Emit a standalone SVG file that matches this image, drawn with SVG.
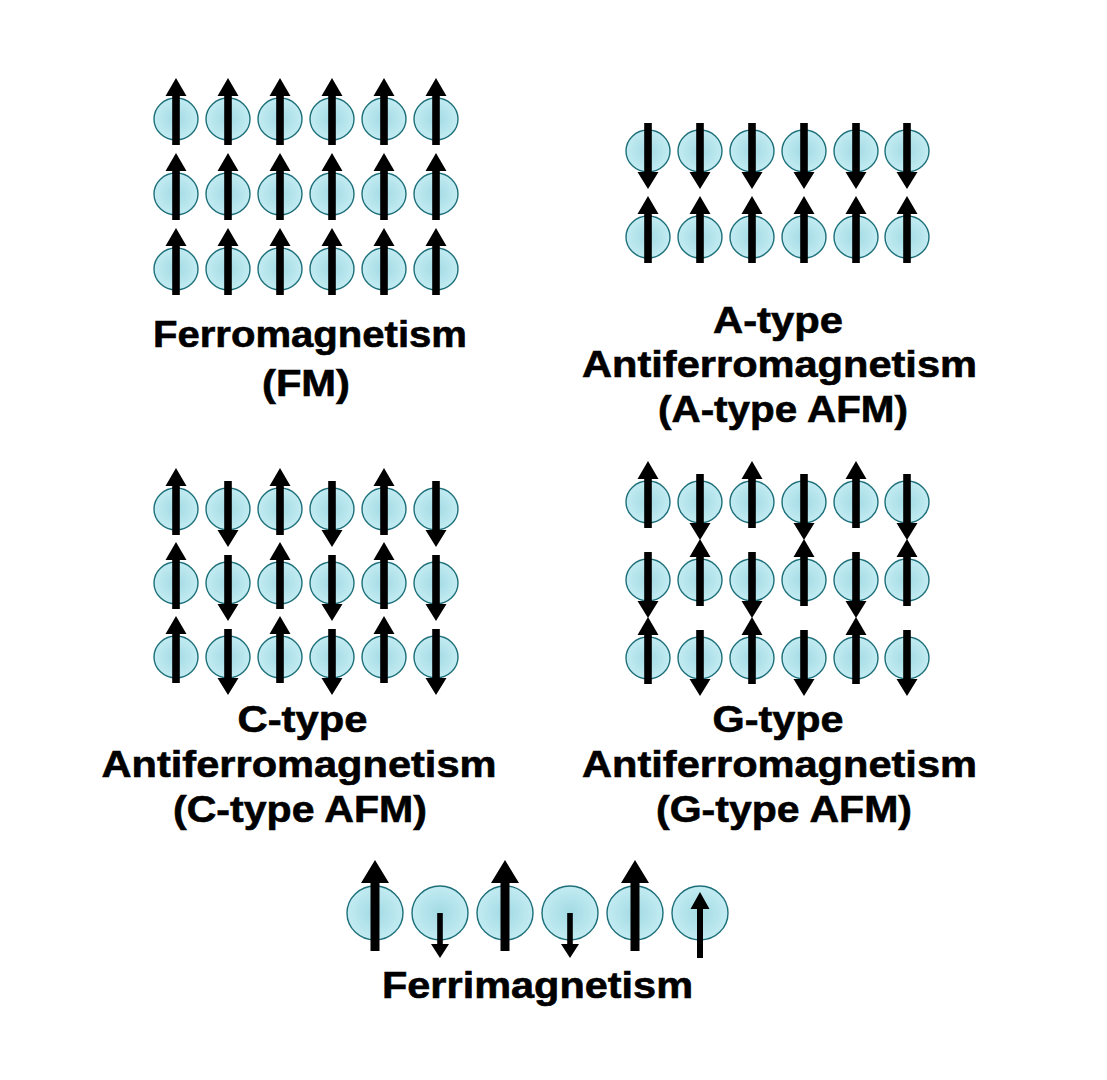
<svg xmlns="http://www.w3.org/2000/svg" xmlns:xlink="http://www.w3.org/1999/xlink" width="1107" height="1080" viewBox="0 0 1107 1080">
<style>
.lbl{font-family:"Liberation Sans",Arial,sans-serif;font-weight:bold;font-size:37px;text-anchor:middle;fill:#000;stroke:#000;stroke-width:0.6}
.atom{fill:url(#ag);stroke:#1d6f7a;stroke-width:1.4}
.spin{fill:#000}
</style>
<defs>
<radialGradient id="ag" cx="0.5" cy="0.5" r="0.55">
<stop offset="0" stop-color="#a2dae4"/>
<stop offset="1" stop-color="#c6edf3"/>
</radialGradient>
<ellipse id="at" class="atom" cx="0" cy="0" rx="22" ry="21"/>
<ellipse id="atL" class="atom" cx="0" cy="0" rx="28" ry="27"/>
<path id="up" class="spin" d="M-3.8,26 L-3.8,-23 L-10.5,-23 L0,-41 L10.5,-23 L3.8,-23 L3.8,26 Z"/>
<path id="dn" class="spin" d="M-3.8,-28 L-3.8,21 L-10.5,21 L0,38 L10.5,21 L3.8,21 L3.8,-28 Z"/>
<path id="upL" class="spin" d="M-4.5,38 L-4.5,-30 L-14,-30 L0,-53 L14,-30 L4.5,-30 L4.5,38 Z"/>
<path id="dnS" class="spin" d="M-2.8,0 L-2.8,31 L-9,31 L0,45 L9,31 L2.8,31 L2.8,0 Z"/>
<path id="upS" class="spin" d="M-3,45 L-3,-4 L-9.5,-4 L0,-21 L9.5,-4 L3,-4 L3,45 Z"/>
</defs>
<rect width="1107" height="1080" fill="#fff"/>
<g id="connectors"/>

<!-- Ferromagnetism -->
<g id="fm">
<g id="fm-1-1"><use href="#at" x="176" y="119"/><use href="#up" x="176" y="119"/></g>
<g id="fm-1-2"><use href="#at" x="228" y="119"/><use href="#up" x="228" y="119"/></g>
<g id="fm-1-3"><use href="#at" x="280" y="119"/><use href="#up" x="280" y="119"/></g>
<g id="fm-1-4"><use href="#at" x="332" y="119"/><use href="#up" x="332" y="119"/></g>
<g id="fm-1-5"><use href="#at" x="384" y="119"/><use href="#up" x="384" y="119"/></g>
<g id="fm-1-6"><use href="#at" x="436" y="119"/><use href="#up" x="436" y="119"/></g>
<g id="fm-2-1"><use href="#at" x="176" y="194"/><use href="#up" x="176" y="194"/></g>
<g id="fm-2-2"><use href="#at" x="228" y="194"/><use href="#up" x="228" y="194"/></g>
<g id="fm-2-3"><use href="#at" x="280" y="194"/><use href="#up" x="280" y="194"/></g>
<g id="fm-2-4"><use href="#at" x="332" y="194"/><use href="#up" x="332" y="194"/></g>
<g id="fm-2-5"><use href="#at" x="384" y="194"/><use href="#up" x="384" y="194"/></g>
<g id="fm-2-6"><use href="#at" x="436" y="194"/><use href="#up" x="436" y="194"/></g>
<g id="fm-3-1"><use href="#at" x="176" y="269"/><use href="#up" x="176" y="269"/></g>
<g id="fm-3-2"><use href="#at" x="228" y="269"/><use href="#up" x="228" y="269"/></g>
<g id="fm-3-3"><use href="#at" x="280" y="269"/><use href="#up" x="280" y="269"/></g>
<g id="fm-3-4"><use href="#at" x="332" y="269"/><use href="#up" x="332" y="269"/></g>
<g id="fm-3-5"><use href="#at" x="384" y="269"/><use href="#up" x="384" y="269"/></g>
<g id="fm-3-6"><use href="#at" x="436" y="269"/><use href="#up" x="436" y="269"/></g>
<g id="fm-label">
<text class="lbl" x="310" y="347" textLength="314" lengthAdjust="spacingAndGlyphs">Ferromagnetism</text>
<text class="lbl" x="306" y="396" textLength="88" lengthAdjust="spacingAndGlyphs">(FM)</text>
</g>
</g>

<!-- A-type AFM -->
<g id="afm-a">
<g id="a-1-1"><use href="#at" x="648" y="151"/><use href="#dn" x="648" y="151"/></g>
<g id="a-1-2"><use href="#at" x="700" y="151"/><use href="#dn" x="700" y="151"/></g>
<g id="a-1-3"><use href="#at" x="752" y="151"/><use href="#dn" x="752" y="151"/></g>
<g id="a-1-4"><use href="#at" x="804" y="151"/><use href="#dn" x="804" y="151"/></g>
<g id="a-1-5"><use href="#at" x="856" y="151"/><use href="#dn" x="856" y="151"/></g>
<g id="a-1-6"><use href="#at" x="907" y="151"/><use href="#dn" x="907" y="151"/></g>
<g id="a-2-1"><use href="#at" x="648" y="237"/><use href="#up" x="648" y="237"/></g>
<g id="a-2-2"><use href="#at" x="700" y="237"/><use href="#up" x="700" y="237"/></g>
<g id="a-2-3"><use href="#at" x="752" y="237"/><use href="#up" x="752" y="237"/></g>
<g id="a-2-4"><use href="#at" x="804" y="237"/><use href="#up" x="804" y="237"/></g>
<g id="a-2-5"><use href="#at" x="856" y="237"/><use href="#up" x="856" y="237"/></g>
<g id="a-2-6"><use href="#at" x="907" y="237"/><use href="#up" x="907" y="237"/></g>
<g id="a-label">
<text class="lbl" x="778" y="333" textLength="130" lengthAdjust="spacingAndGlyphs">A-type</text>
<text class="lbl" x="779.5" y="377" textLength="395" lengthAdjust="spacingAndGlyphs">Antiferromagnetism</text>
<text class="lbl" x="783" y="422" textLength="250" lengthAdjust="spacingAndGlyphs">(A-type AFM)</text>
</g>
</g>

<!-- C-type AFM -->
<g id="afm-c">
<g id="c-1-1"><use href="#at" x="176" y="509"/><use href="#up" x="176" y="509"/></g>
<g id="c-1-2"><use href="#at" x="228" y="509"/><use href="#dn" x="228" y="509"/></g>
<g id="c-1-3"><use href="#at" x="280" y="509"/><use href="#up" x="280" y="509"/></g>
<g id="c-1-4"><use href="#at" x="332" y="509"/><use href="#dn" x="332" y="509"/></g>
<g id="c-1-5"><use href="#at" x="384" y="509"/><use href="#up" x="384" y="509"/></g>
<g id="c-1-6"><use href="#at" x="436" y="509"/><use href="#dn" x="436" y="509"/></g>
<g id="c-2-1"><use href="#at" x="176" y="583"/><use href="#up" x="176" y="583"/></g>
<g id="c-2-2"><use href="#at" x="228" y="583"/><use href="#dn" x="228" y="583"/></g>
<g id="c-2-3"><use href="#at" x="280" y="583"/><use href="#up" x="280" y="583"/></g>
<g id="c-2-4"><use href="#at" x="332" y="583"/><use href="#dn" x="332" y="583"/></g>
<g id="c-2-5"><use href="#at" x="384" y="583"/><use href="#up" x="384" y="583"/></g>
<g id="c-2-6"><use href="#at" x="436" y="583"/><use href="#dn" x="436" y="583"/></g>
<g id="c-3-1"><use href="#at" x="176" y="657"/><use href="#up" x="176" y="657"/></g>
<g id="c-3-2"><use href="#at" x="228" y="657"/><use href="#dn" x="228" y="657"/></g>
<g id="c-3-3"><use href="#at" x="280" y="657"/><use href="#up" x="280" y="657"/></g>
<g id="c-3-4"><use href="#at" x="332" y="657"/><use href="#dn" x="332" y="657"/></g>
<g id="c-3-5"><use href="#at" x="384" y="657"/><use href="#up" x="384" y="657"/></g>
<g id="c-3-6"><use href="#at" x="436" y="657"/><use href="#dn" x="436" y="657"/></g>
<g id="c-label">
<text class="lbl" x="302.5" y="732" textLength="130" lengthAdjust="spacingAndGlyphs">C-type</text>
<text class="lbl" x="299" y="777" textLength="395" lengthAdjust="spacingAndGlyphs">Antiferromagnetism</text>
<text class="lbl" x="300" y="822" textLength="254" lengthAdjust="spacingAndGlyphs">(C-type AFM)</text>
</g>
</g>

<!-- G-type AFM -->
<g id="afm-g">
<g id="g-1-1"><use href="#at" x="648" y="502"/><use href="#up" x="648" y="502"/></g>
<g id="g-1-2"><use href="#at" x="700" y="502"/><use href="#dn" x="700" y="502"/></g>
<g id="g-1-3"><use href="#at" x="752" y="502"/><use href="#up" x="752" y="502"/></g>
<g id="g-1-4"><use href="#at" x="804" y="502"/><use href="#dn" x="804" y="502"/></g>
<g id="g-1-5"><use href="#at" x="856" y="502"/><use href="#up" x="856" y="502"/></g>
<g id="g-1-6"><use href="#at" x="907" y="502"/><use href="#dn" x="907" y="502"/></g>
<g id="g-2-1"><use href="#at" x="648" y="580"/><use href="#dn" x="648" y="580"/></g>
<g id="g-2-2"><use href="#at" x="700" y="580"/><use href="#up" x="700" y="580"/></g>
<g id="g-2-3"><use href="#at" x="752" y="580"/><use href="#dn" x="752" y="580"/></g>
<g id="g-2-4"><use href="#at" x="804" y="580"/><use href="#up" x="804" y="580"/></g>
<g id="g-2-5"><use href="#at" x="856" y="580"/><use href="#dn" x="856" y="580"/></g>
<g id="g-2-6"><use href="#at" x="907" y="580"/><use href="#up" x="907" y="580"/></g>
<g id="g-3-1"><use href="#at" x="648" y="658"/><use href="#up" x="648" y="658"/></g>
<g id="g-3-2"><use href="#at" x="700" y="658"/><use href="#dn" x="700" y="658"/></g>
<g id="g-3-3"><use href="#at" x="752" y="658"/><use href="#up" x="752" y="658"/></g>
<g id="g-3-4"><use href="#at" x="804" y="658"/><use href="#dn" x="804" y="658"/></g>
<g id="g-3-5"><use href="#at" x="856" y="658"/><use href="#up" x="856" y="658"/></g>
<g id="g-3-6"><use href="#at" x="907" y="658"/><use href="#dn" x="907" y="658"/></g>
<g id="g-label">
<text class="lbl" x="778" y="732" textLength="131" lengthAdjust="spacingAndGlyphs">G-type</text>
<text class="lbl" x="779.5" y="777" textLength="395" lengthAdjust="spacingAndGlyphs">Antiferromagnetism</text>
<text class="lbl" x="784" y="822" textLength="256" lengthAdjust="spacingAndGlyphs">(G-type AFM)</text>
</g>
</g>

<!-- Ferrimagnetism -->
<g id="ferri">
<g id="fi-1"><use href="#atL" x="375" y="913"/><use href="#upL" x="375" y="913"/></g>
<g id="fi-2"><use href="#atL" x="440" y="913"/><use href="#dnS" x="440" y="913"/></g>
<g id="fi-3"><use href="#atL" x="505" y="913"/><use href="#upL" x="505" y="913"/></g>
<g id="fi-4"><use href="#atL" x="570" y="913"/><use href="#dnS" x="570" y="913"/></g>
<g id="fi-5"><use href="#atL" x="635" y="913"/><use href="#upL" x="635" y="913"/></g>
<g id="fi-6"><use href="#atL" x="700" y="913"/><use href="#upS" x="700" y="913"/></g>
<g id="fi-label">
<text class="lbl" x="537.5" y="998" textLength="311" lengthAdjust="spacingAndGlyphs">Ferrimagnetism</text>
</g>
</g>
</svg>
